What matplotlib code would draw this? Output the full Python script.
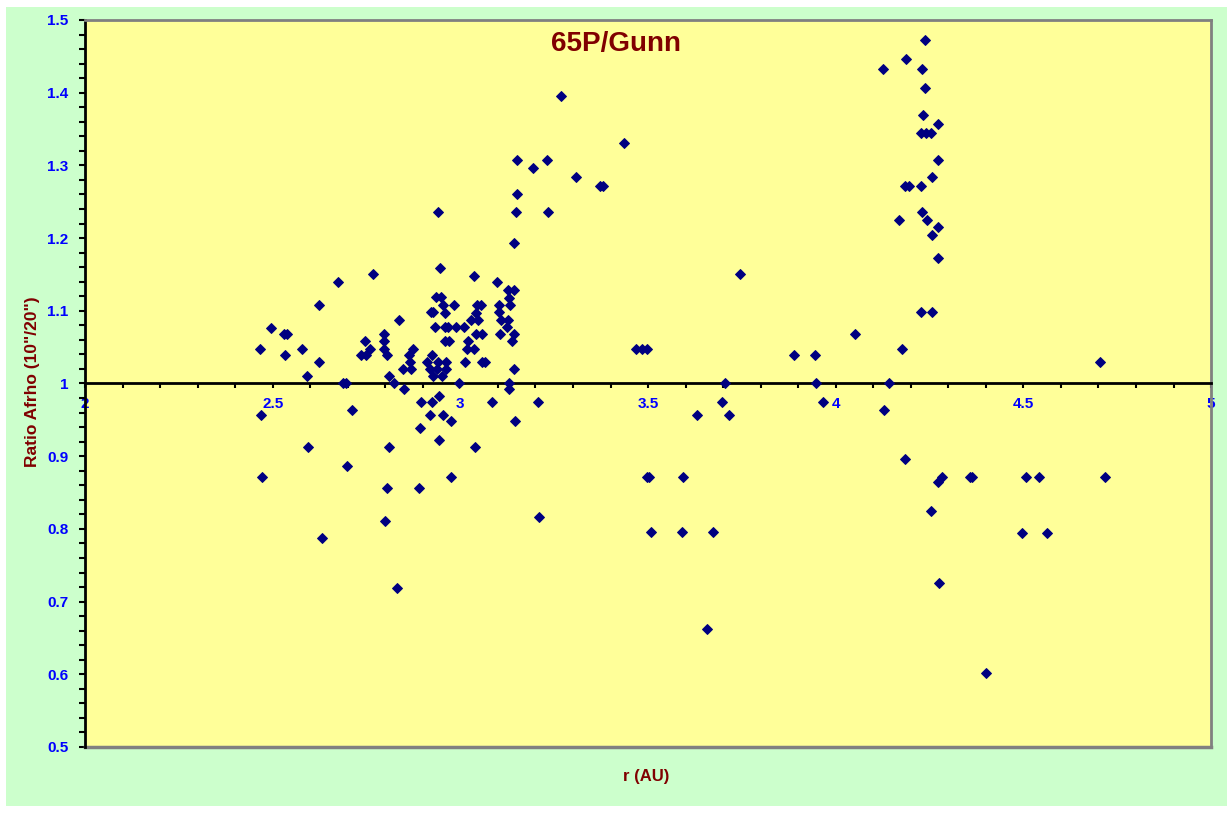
import matplotlib
matplotlib.use("Agg")
import matplotlib.pyplot as plt
from matplotlib.ticker import MultipleLocator, FuncFormatter
from matplotlib.patches import Rectangle

plt.rcParams['font.family'] = ['Liberation Sans', 'DejaVu Sans']

# heliocentric distance r (AU) and Afrho ratio 10"/20"
r_au = [
    2.466, 2.495, 2.530, 2.537, 2.533, 2.468, 2.472, 2.577, 2.591, 2.595, 2.623, 2.624, 2.630,
    2.673, 2.686, 2.694, 2.699, 2.711, 2.736, 2.749, 2.745, 2.760, 2.767, 2.797, 2.797, 2.797,
    2.805, 2.810, 2.810, 2.804, 2.800, 2.830, 2.823, 2.836,
    2.873, 2.862, 2.924, 2.866, 2.910, 2.940, 2.962, 2.847, 2.868, 2.919, 2.937, 2.962, 2.928,
    2.950, 2.849, 2.942, 2.894, 2.924, 2.919, 2.953, 2.974, 2.892, 2.942, 2.974, 2.889, 2.940,
    2.945, 2.935, 2.949, 2.954, 2.983, 2.922, 2.928, 2.958, 2.933, 2.958, 2.967, 2.987, 2.959,
    2.970, 2.997,
    3.010, 3.013, 3.017, 3.021, 3.027, 3.036, 3.037, 3.042, 3.042, 3.043, 3.048, 3.054, 3.058,
    3.058, 3.066, 3.039, 3.085, 3.098, 3.104, 3.104, 3.108, 3.106, 3.125, 3.128, 3.131, 3.130,
    3.126, 3.143, 3.142, 3.147, 3.150, 3.150, 3.143, 3.138, 3.142, 3.129, 3.129, 3.145, 3.208,
    3.210,
    3.193, 3.231, 3.233, 3.268, 3.308, 3.373, 3.379, 3.436, 3.468, 3.485, 3.497, 3.497, 3.503,
    3.508,
    3.594, 3.590, 3.674, 3.657, 3.630, 3.698, 3.715, 3.705, 3.746, 3.888, 3.946, 3.948, 3.966,
    4.052,
    4.127, 4.188, 4.231, 4.237, 4.239, 4.233, 4.272, 4.226, 4.240, 4.253, 4.272, 4.256, 4.185,
    4.196, 4.228, 4.230, 4.169, 4.244, 4.273, 4.257, 4.273, 4.228, 4.257, 4.177, 4.142, 4.129,
    4.185, 4.284, 4.272, 4.254, 4.275,
    4.357, 4.364, 4.401, 4.506, 4.541, 4.495, 4.562, 4.705, 4.717,
]
ratio = [
    1.048, 1.077, 1.068, 1.068, 1.039, 0.957, 0.872, 1.048, 1.010, 0.912, 1.108, 1.029, 0.788,
    1.140, 1.000, 1.000, 0.887, 0.964, 1.039, 1.039, 1.058, 1.048, 1.150, 1.068, 1.058, 1.048,
    1.039, 1.010, 0.912, 0.856, 0.811, 0.719, 1.000, 1.087,
    1.048, 1.039, 1.039, 1.029, 1.029, 1.029, 1.029, 1.020, 1.020, 1.020, 1.020, 1.020, 1.010,
    1.010, 0.992, 0.983, 0.975, 0.975, 0.957, 0.957, 0.948, 0.939, 0.922, 0.872, 0.856, 1.236,
    1.159, 1.119, 1.119, 1.108, 1.108, 1.098, 1.098, 1.097, 1.078, 1.078, 1.078, 1.078, 1.058,
    1.058, 1.000,
    1.078, 1.029, 1.048, 1.058, 1.088, 1.148, 1.048, 1.068, 1.097, 1.108, 1.088, 1.108, 1.068,
    1.029, 1.029, 0.912, 0.975, 1.139, 1.108, 1.098, 1.088, 1.068, 1.078, 1.088, 1.108, 1.118,
    1.128, 1.128, 1.193, 1.236, 1.260, 1.307, 1.068, 1.058, 1.020, 1.000, 0.992, 0.948, 0.975,
    0.817,
    1.296, 1.307, 1.236, 1.395, 1.284, 1.272, 1.272, 1.331, 1.048, 1.048, 1.048, 0.872, 0.872,
    0.796,
    0.872, 0.796, 0.796, 0.662, 0.956, 0.975, 0.956, 1.000, 1.150, 1.039, 1.039, 1.000, 0.975,
    1.068,
    1.433, 1.447, 1.433, 1.473, 1.407, 1.369, 1.357, 1.344, 1.344, 1.344, 1.307, 1.284, 1.272,
    1.272, 1.272, 1.236, 1.225, 1.225, 1.215, 1.204, 1.172, 1.098, 1.098, 1.048, 1.000, 0.963,
    0.896, 0.872, 0.865, 0.825, 0.725,
    0.872, 0.872, 0.602, 0.872, 0.872, 0.795, 0.795, 1.029, 0.872,
]

x_ticks = [2, 2.5, 3, 3.5, 4, 4.5, 5]

fig = plt.figure(figsize=(12.31, 8.13), dpi=100, facecolor='white')
# light green chart area with a thin white margin
fig.patches.append(Rectangle((0.0049, 0.0086), 0.9919, 0.9828, transform=fig.transFigure,
                             facecolor='#CCFFCC', edgecolor='none', zorder=-1))

ax = fig.add_axes([0.0691, 0.0812, 0.9147, 0.8942])
ax.set_zorder(1)
ax.set_facecolor('#FFFF99')
ax.plot(r_au, ratio, linestyle='none', marker='D', markersize=4.6,
        color='#000080', markeredgecolor='#000080', markeredgewidth=0.7, zorder=3)

ax.set_xlim(2, 5)
ax.set_ylim(0.5, 1.5)

# x axis crosses at ratio = 1
ax.spines['bottom'].set_position(('data', 1.0))
ax.spines['bottom'].set_color('black')
ax.spines['bottom'].set_linewidth(2)
ax.spines['left'].set_color('black')
ax.spines['left'].set_linewidth(2)
for side in ['top', 'right']:
    ax.spines[side].set_color('#808080')
    ax.spines[side].set_linewidth(2)
ax.axhline(0.5, color='#808080', linewidth=2.5, clip_on=False, zorder=2)

ax.set_xticks(x_ticks)
ax.set_xticklabels(['%g' % t for t in x_ticks])
ax.xaxis.set_minor_locator(MultipleLocator(0.1))
ax.yaxis.set_major_locator(MultipleLocator(0.1))
ax.yaxis.set_minor_locator(MultipleLocator(0.02))
ax.yaxis.set_major_formatter(FuncFormatter(lambda v, p: '%g' % round(v, 2)))

ax.tick_params(axis='x', which='both', direction='out', length=3.5, width=1.5, color='black',
               pad=6, labelsize=11, labelcolor='#0000FF')
ax.tick_params(axis='y', which='both', direction='out', length=4, width=1.5, color='black',
               pad=8, labelsize=11, labelcolor='#0000FF')
for lab in ax.get_xticklabels() + ax.get_yticklabels():
    lab.set_fontweight('bold')

fig.text(0.5, 0.946, '65P/Gunn', ha='center', va='center', fontsize=20,
         fontweight='bold', color='#800000', zorder=5)
fig.text(0.026, 0.53, 'Ratio Afrho (10"/20")', rotation=90, ha='center', va='center',
         fontsize=12.5, fontweight='bold', color='#800000')
fig.text(0.5248, 0.0455, 'r (AU)', ha='center', va='center', fontsize=12,
         fontweight='bold', color='#800000')

fig.savefig('out.png', dpi=100, facecolor=fig.get_facecolor())
